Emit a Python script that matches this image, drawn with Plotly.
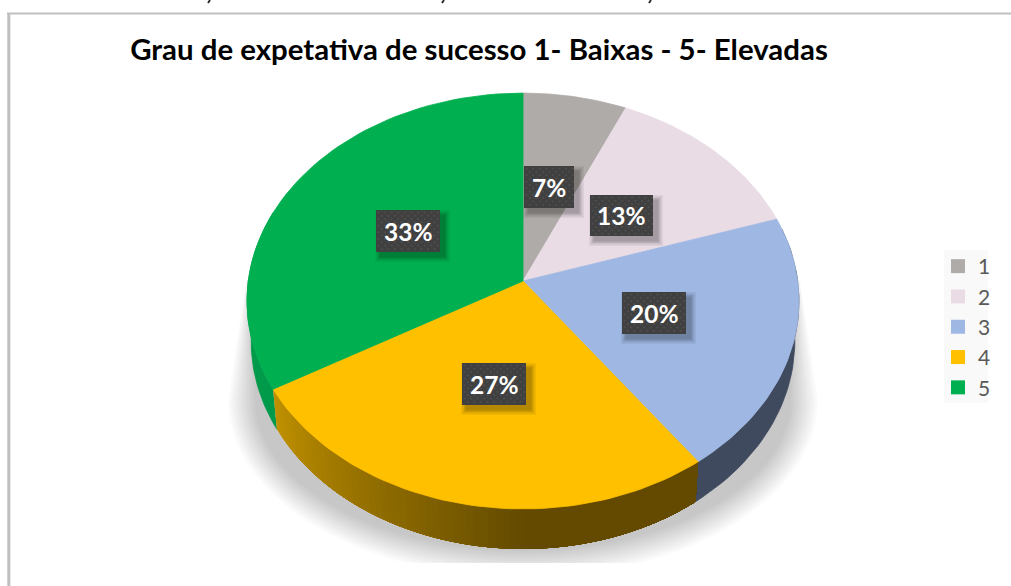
import math
import plotly.graph_objects as go

# ---- data ----
categories = ["1", "2", "3", "4", "5"]
values = [1, 2, 3, 4, 5]
top_colors = ["#afaba9", "#e9dce5", "#9fb8e3", "#ffc000", "#00b050"]
side_colors = ["#6f6c6b", "#8f878c", "#404a5f", "#634a00", "#009a4a"]
chart_title = "Grau de expetativa de sucesso 1- Baixas - 5- Elevadas"
label_boxes = [(524, 574, 166, 208), (590, 653, 195, 236), (622, 686, 292, 334),
               (462, 526, 363, 405), (376, 440, 210, 252)]
cropped_ink_x = [209, 443, 650]

# ---- perspective pie geometry ----
CX, CY, A, B, K = 523, 281, 274.7, 206, 0.0962
DEPTH, SHRINK = 40, 0.985
W, H = 1011, 586
total = sum(values)


def rim(deg, bottom=False):
    t = math.radians(deg)
    d = 1 + K * math.cos(t)
    x = A * math.sin(t) / d
    y = -B * math.cos(t) / d
    if bottom:
        return CX + x * SHRINK, CY + y + DEPTH
    return CX + x, CY + y


def steps(a, b, n):
    return [a + (b - a) * i / n for i in range(n + 1)]


def mix(c1, c2, f):
    p = [int(c1[i:i + 2], 16) for i in (1, 3, 5)]
    q = [int(c2[i:i + 2], 16) for i in (1, 3, 5)]
    return "rgb(%d,%d,%d)" % tuple(round(u + (v - u) * f) for u, v in zip(p, q))


fig = go.Figure()


def poly(xs, ys, color, line=True):
    fig.add_trace(go.Scatter(
        x=xs, y=ys, mode="lines", fill="toself", fillcolor=color,
        line=dict(color=color, width=0.8 if line else 0),
        hoverinfo="skip", showlegend=False))


# ---- soft shadow under the pie ----
LAYERS = 14
for i in range(LAYERS):
    inset = 27 * i / (LAYERS - 1)
    rx, ry = 295 - inset, 178 - inset
    xs, ys = [], []
    for d in steps(0, 180, 90):
        t = math.radians(d)
        xs.append(523 + rx * math.cos(t))
        ys.append(min(400 + ry * math.sin(t), 563))
    xs = [800 - inset * 0.2] + xs + [246 + inset * 0.2]
    ys = [280] + ys + [280]
    poly(xs, ys, "rgba(0,0,0,0.0158)", line=False)

# ---- slice angles from the values ----
angles, acc = [], 0
for v in values:
    angles.append((acc / total * 360, (acc + v) / total * 360))
    acc += v

# ---- side wall ----
for idx in (4, 2, 3):
    a0, a1 = angles[idx]
    a0 = max(a0, 75)
    a1 = min(a1, 290)
    if idx == 3:
        # gradient strips painted from the left end, each one overlapping the next
        n = 70
        for i in range(n):
            d0 = a1 - (a1 - a0) * i / n
            f = min(1, i / (n * 0.62))
            col = mix("#bf9000", "#634a00", f)
            ds = steps(d0, a0, 24)
            top = [rim(d) for d in ds]
            bot = [rim(d, True) for d in ds[::-1]]
            pts = top + bot
            poly([p[0] for p in pts], [p[1] for p in pts], col, line=False)
    else:
        ds = steps(a0, a1, 40)
        top = [rim(d) for d in ds]
        bot = [rim(d, True) for d in ds[::-1]]
        poly([p[0] for p in top + bot], [p[1] for p in top + bot], side_colors[idx])

# ---- top face ----
for (a0, a1), col in zip(angles, top_colors):
    pts = [rim(d) for d in steps(a0, a1, 60)]
    poly([CX] + [p[0] for p in pts] + [CX], [CY] + [p[1] for p in pts] + [CY], col)

# ---- percentage labels: shadowed box with dotted texture ----
annotations = []
for v, (x0, x1, y0, y1) in zip(values, label_boxes):
    for g, al in ((6, 0.05), (4.5, 0.07), (3, 0.09), (1.5, 0.11)):
        poly([x0 + 5 - g, x1 + 4 + g, x1 + 4 + g, x0 + 5 - g, x0 + 5 - g],
             [y0 + 6 - g, y0 + 6 - g, y1 + 4 + g, y1 + 4 + g, y0 + 6 - g],
             f"rgba(0,0,0,{al})", line=False)
    poly([x0, x1, x1, x0, x0], [y0, y0, y1, y1, y0], "#404040", line=False)
    dx, dy = [], []
    row = 0
    y = y0 + 2.5
    while y < y1 - 1:
        x = x0 + (2.5 if row % 2 == 0 else 5.8)
        while x < x1 - 1:
            dx.append(x)
            dy.append(y)
            x += 6.6
        y += 3.3
        row += 1
    fig.add_trace(go.Scatter(x=dx, y=dy, mode="markers",
                             marker=dict(color="#4e4e4e", size=2.2, symbol="circle"),
                             hoverinfo="skip", showlegend=False))
    annotations.append(dict(x=(x0 + x1) / 2, y=(y0 + y1) / 2, xref="x", yref="y",
                            text=f"<b>{round(v / total * 100)}%</b>", showarrow=False,
                            font=dict(family="Lato", size=24.5, color="white")))

# descender ink left over from the line of text cropped off above the chart
for px in cropped_ink_x:
    fig.add_trace(go.Scatter(x=[px + 1, px - 1], y=[0, 3], mode="lines",
                             line=dict(color="#222222", width=1.8),
                             hoverinfo="skip", showlegend=False))

# ---- legend entries ----
for cat, col in zip(categories, top_colors):
    fig.add_trace(go.Scatter(x=[None], y=[None], mode="markers", name=cat, legendgroup=cat,
                             marker=dict(color=col, size=14, symbol="square")))

fig.update_layout(
    width=W, height=H, margin=dict(l=0, r=0, t=0, b=0),
    paper_bgcolor="white", plot_bgcolor="white",
    xaxis=dict(range=[0, W], visible=False, fixedrange=True),
    yaxis=dict(range=[H, 0], visible=False, fixedrange=True),
    title=dict(text=f"<b>{chart_title}</b>", x=479 / W, xanchor="center", xref="paper",
               y=1 - 50 / H, yanchor="middle", yref="container",
               font=dict(family="Lato", size=29.4, color="black")),
    legend=dict(x=938 / W, xanchor="left", y=1 - 246 / H, yanchor="top",
                bgcolor="rgba(0,0,0,0)", font=dict(family="Lato", size=21, color="#595959"),
                tracegroupgap=0.5, traceorder="normal", itemclick=False, itemdoubleclick=False),
    annotations=annotations,
    shapes=[
        dict(type="line", xref="x", yref="y", x0=7, x1=W, y0=13.5, y1=13.5,
             line=dict(color="#bfbfbf", width=2), layer="below"),
        dict(type="line", xref="x", yref="y", x0=8.8, x1=8.8, y0=13, y1=H,
             line=dict(color="#bfbfbf", width=3), layer="below"),
        dict(type="rect", xref="x", yref="y", x0=944, x1=988, y0=250, y1=403,
             fillcolor="#f9f9f9", line=dict(width=0), layer="below"),
    ],
)

fig.write_html("out.html", post_script="document.body.style.margin='0';",
               config={"displayModeBar": False})
